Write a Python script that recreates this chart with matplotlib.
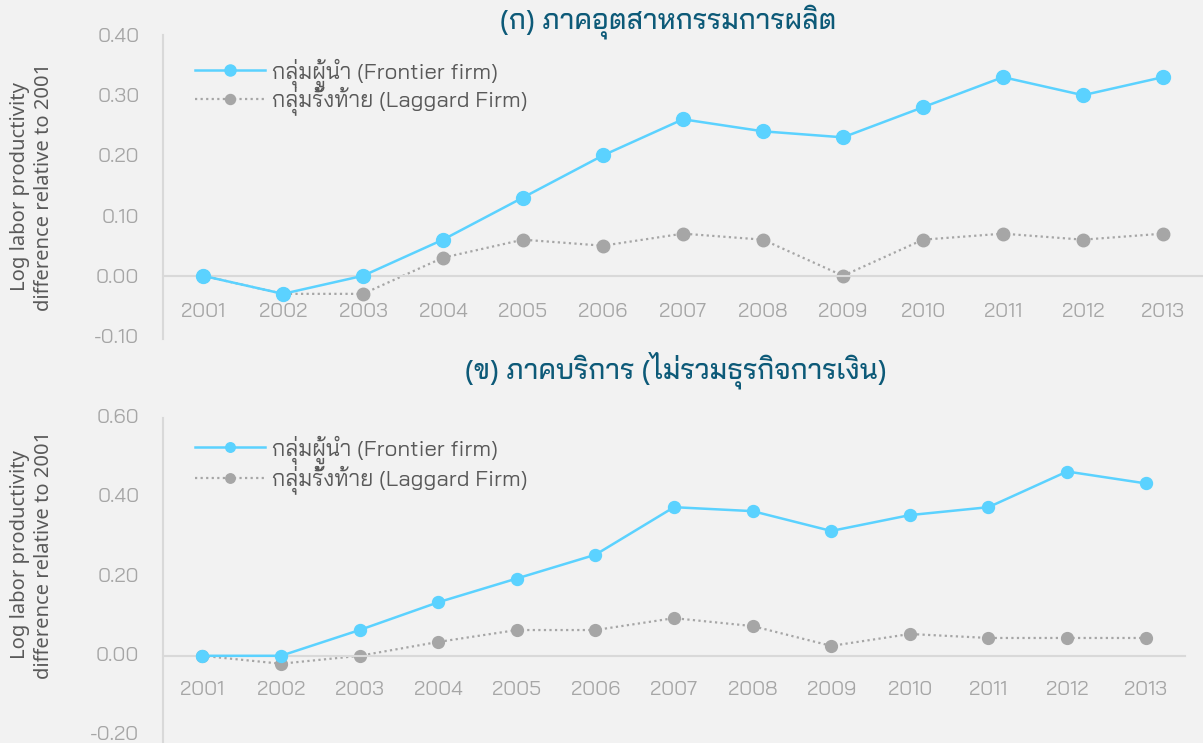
import matplotlib
matplotlib.use("Agg")
import matplotlib.pyplot as plt

years = [2001, 2002, 2003, 2004, 2005, 2006, 2007, 2008, 2009, 2010, 2011, 2012, 2013]

mfg_frontier = [0.00, -0.03, 0.00, 0.06, 0.13, 0.20, 0.26, 0.24, 0.23, 0.28, 0.33, 0.30, 0.33]
mfg_laggard = [0.00, -0.03, -0.03, 0.03, 0.06, 0.05, 0.07, 0.06, 0.00, 0.06, 0.07, 0.06, 0.07]

svc_frontier = [0.00, 0.00, 0.065, 0.135, 0.195, 0.255, 0.375, 0.365, 0.315, 0.355, 0.375, 0.465, 0.435]
svc_laggard = [0.00, -0.02, 0.00, 0.035, 0.065, 0.065, 0.095, 0.075, 0.025, 0.055, 0.045, 0.045, 0.045]

title_top = "(ก) ภาคอุตสาหกรรมการผลิต"
title_bot = "(ข) ภาคบริการ (ไม่รวมธุรกิจการเงิน)"
lab_frontier = "กลุ่มผู้นำ (Frontier firm)"
lab_laggard = "กลุ่มรั้งท้าย (Laggard Firm)"
ylabel = "Log labor productivity\ndifference relative to 2001"
top_yticks = [-0.10, 0.00, 0.10, 0.20, 0.30, 0.40]
bot_yticks = [-0.20, 0.00, 0.20, 0.40, 0.60]

THAI = ['Bai Jamjuree', 'DejaVu Sans']
LAT = ['Noto Sans', 'DejaVu Sans']
BG = '#f2f2f2'
C_F = '#5bd2ff'
C_L = '#a6a6a6'
C_TICK = '#a6a6a6'
C_TITLE = '#0d5a78'
C_YLAB = '#595959'
C_LEG = '#595959'
C_AX = '#d9d9d9'

W, H = 1203, 743
fig = plt.figure(figsize=(W / 100, H / 100), dpi=100, facecolor=BG)


def px_axes(x0, y0, x1, y1):
    return fig.add_axes([x0 / W, 1 - y1 / H, (x1 - x0) / W, (y1 - y0) / H])


def style(ax, yticks, ylim, xpad, ypad, yva='center_baseline'):
    ax.set_facecolor(BG)
    ax.set_xlim(2000.5, 2013.5)
    ax.set_ylim(*ylim)
    for s in ['top', 'right']:
        ax.spines[s].set_visible(False)
    ax.spines['bottom'].set_position(('data', 0))
    for s in ['bottom', 'left']:
        ax.spines[s].set_color(C_AX)
        ax.spines[s].set_linewidth(1.5)
    ax.set_xticks(years)
    ax.set_xticklabels([str(y) for y in years])
    ax.set_yticks(yticks)
    ax.set_yticklabels(['{:.2f}'.format(v) for v in yticks])
    ax.tick_params(axis='both', length=0, colors=C_TICK, labelsize=14.5)
    ax.tick_params(axis='x', pad=xpad)
    ax.tick_params(axis='y', pad=ypad)
    for t in ax.get_xticklabels() + ax.get_yticklabels():
        t.set_family(THAI)
    for t in ax.get_yticklabels():
        t.set_va(yva)


def legend(ax, top_px, spacing):
    leg = ax.legend(loc='upper left', bbox_to_anchor=(175 / W, 1 - top_px / H),
                    bbox_transform=fig.transFigure, frameon=False,
                    handlelength=3.15, handletextpad=0.3, labelspacing=spacing,
                    markerscale=0.8, prop={'family': THAI, 'size': 16})
    for t in leg.get_texts():
        t.set_color(C_LEG)


# ---------------- top panel ----------------
ax1 = px_axes(163, 35, 1203, 339)
ax1.plot(years, mfg_frontier, color=C_F, lw=1.8, marker='o', ms=10,
         label=lab_frontier, zorder=3)
ax1.plot(years, mfg_laggard, color=C_L, lw=1.6, ls=(0, (1, 1.5)), marker='o',
         ms=9, label=lab_laggard, zorder=2)
style(ax1, top_yticks, (-0.105, 0.40), 19.5, 17)
legend(ax1, 38, -0.03)
fig.text(32 / W, 1 - 187 / H, ylabel, family=LAT, fontsize=14.5, color=C_YLAB,
         rotation=90, ha='center', va='center', linespacing=1.3)
fig.text(668 / W, 1 - 22 / H, title_top, family=THAI, fontsize=20,
         fontweight=500, color=C_TITLE, ha='center', va='center')

# ---------------- bottom panel ----------------
ax2 = px_axes(163, 418, 1185, 743)
ax2.plot(years, svc_frontier, color=C_F, lw=1.8, marker='o', ms=8.6,
         label=lab_frontier, zorder=3)
ax2.plot(years, svc_laggard, color=C_L, lw=1.6, ls=(0, (1, 1.5)), marker='o',
         ms=8.5, label=lab_laggard, zorder=2)
style(ax2, bot_yticks, (-0.22, 0.60), 18.5, 17, yva='center')
legend(ax2, 415, 0.07)
fig.text(32 / W, 1 - 555 / H, ylabel, family=LAT, fontsize=14.5, color=C_YLAB,
         rotation=90, ha='center', va='center', linespacing=1.3)
fig.text(676 / W, 1 - 370 / H, title_bot, family=THAI, fontsize=20,
         fontweight=500, color=C_TITLE, ha='center', va='center')

fig.savefig("out.png", dpi=100, facecolor=BG)
